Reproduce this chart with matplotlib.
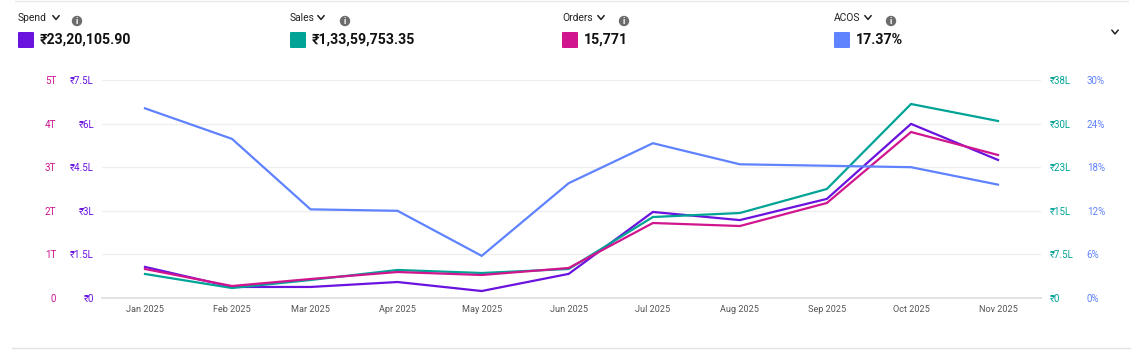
import numpy as np
import pandas as pd
import matplotlib
matplotlib.use("Agg")
import matplotlib.pyplot as plt
from matplotlib.patches import FancyBboxPatch, Circle

plt.rcParams['font.family'] = ['Roboto', 'Liberation Sans', 'DejaVu Sans']

W, H = 1147, 354

months = ["Jan 2025", "Feb 2025", "Mar 2025", "Apr 2025", "May 2025", "Jun 2025",
          "Jul 2025", "Aug 2025", "Sep 2025", "Oct 2025", "Nov 2025"]
spend = [1.07, 0.38, 0.38, 0.55, 0.24, 0.83, 2.96, 2.68, 3.41, 5.99, 4.75]  # lakh
sales = [4.13, 1.72, 3.10, 4.82, 4.30, 4.99, 13.93, 14.62, 18.75, 33.37, 30.45]  # lakh
orders = [665, 275, 436, 596, 528, 688, 1720, 1651, 2179, 3807, 3280]
acos = [26.1, 21.9, 12.2, 12.0, 5.8, 15.8, 21.3, 18.4, 18.2, 18.0, 15.6]

spend_ticks = ["₹0", "₹1.5L", "₹3L", "₹4.5L", "₹6L", "₹7.5L"]
sales_ticks = ["₹0", "₹7.5L", "₹15L", "₹23L", "₹30L", "₹38L"]
orders_ticks = ["0", "1T", "2T", "3T", "4T", "5T"]
acos_ticks = ["0%", "6%", "12%", "18%", "24%", "30%"]

metric_names = ["Spend", "Sales", "Orders", "ACOS"]
metric_values = ["₹23,20,105.90", "₹1,33,59,753.35", "15,771", "17.37%"]

c_spend = "#6A12DE"
c_sales = "#00A396"
c_orders = "#D0158F"
c_acos = "#5F82FF"

dates = pd.to_datetime(months, format="%b %Y")

fig = plt.figure(figsize=(W / 100, H / 100), dpi=100)
rect = [102 / W, 1 - 298 / H, (1041 - 102) / W, 218 / H]
ax = fig.add_axes(rect)
ax2 = ax.twinx()
ax3 = ax.twinx()
ax4 = ax.twinx()

px_start = (145 - 102) / 939
px_end = (1041 - 998) / 939
span = (dates[-1] - dates[0]) / (1 - px_start - px_end)
xlim = (dates[0] - span * px_start, dates[-1] + span * px_end)


def setup(a, top, labels, color, side, off):
    a.set_xlim(xlim)
    a.set_ylim(0, top)
    a.yaxis.set_ticks_position(side)
    a.set_yticks(np.linspace(0, top, 6))
    a.set_yticklabels(labels)
    for s in a.spines.values():
        s.set_visible(False)
    a.spines[side].set_position(("outward", off))
    a.tick_params(axis="y", length=0, pad=0, labelsize=7, labelcolor=color)
    a.patch.set_visible(False)


setup(ax, 7.5, spend_ticks, c_spend, "left", 5.8)
setup(ax3, 5000, orders_ticks, c_orders, "left", 33)
setup(ax2, 37.5, sales_ticks, c_sales, "right", 6.5)
setup(ax4, 30, acos_ticks, c_acos, "right", 33)

ax.grid(axis="y", color="#EEEEEE", lw=0.9)
ax.set_axisbelow(True)
ax.spines["bottom"].set_visible(True)
ax.spines["bottom"].set_color("#E3E3E3")
ax.spines["bottom"].set_linewidth(1.4)
ax.set_xticks(dates)
ax.set_xticklabels(months, fontsize=6.6, color="#555555")
ax.tick_params(axis="x", length=0, pad=5.3)

ax.plot(dates, spend, color=c_spend, lw=1.6, solid_joinstyle="miter", clip_on=False)
ax2.plot(dates, sales, color=c_sales, lw=1.6, solid_joinstyle="miter", clip_on=False)
ax3.plot(dates, orders, color=c_orders, lw=1.6, solid_joinstyle="miter", clip_on=False)
ax4.plot(dates, acos, color=c_acos, lw=1.6, solid_joinstyle="miter", clip_on=False)

# header row, laid out in pixel coordinates
top = fig.add_axes([0, 0, 1, 1])
top.set_xlim(0, W)
top.set_ylim(H, 0)
top.axis("off")
top.patch.set_visible(False)


def chevron(x, y, size=3.2):
    top.plot([x - size, x, x + size], [y - size * 0.6, y + size * 0.6, y - size * 0.6],
             color="#222222", lw=1.1, solid_capstyle="round")


header_x = [18, 290, 562, 834]
chevron_x = [56, 321, 601, 868]
info_x = [77, 345, 624, 891]
colors = [c_spend, c_sales, c_orders, c_acos]
for i in range(4):
    x = header_x[i]
    top.text(x, 18, metric_names[i], fontsize=7.4, color="#222222", va="center")
    chevron(chevron_x[i], 17.5)
    top.add_patch(Circle((info_x[i], 21), 5.2, color="#6B6B6B", lw=0))
    top.text(info_x[i], 21, "i", fontsize=6.5, color="white", fontweight="bold",
             ha="center", va="center")
    top.add_patch(FancyBboxPatch((x + 1, 33), 14, 14, boxstyle="round,pad=1",
                                 fc=colors[i], ec="none"))
    top.text(x + 22, 40, metric_values[i], fontsize=10.2, fontweight="bold",
             color="#111111", va="center")

chevron(1115, 32)
top.plot([15, 1128], [0.5, 0.5], color="#E8E8E8", lw=1)
top.plot([12, 1130], [347.5, 347.5], color="#E3E3E3", lw=1)

fig.savefig("out.png", dpi=100, facecolor="white")
